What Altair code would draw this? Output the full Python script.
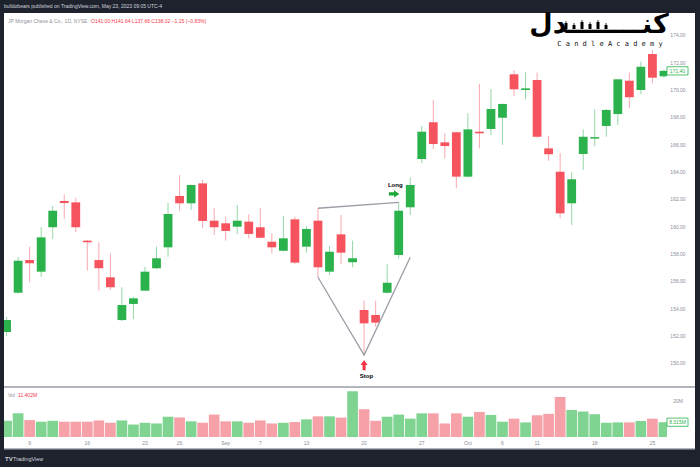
import altair as alt
import pandas as pd

# ---------------- data ----------------
idx = list(range(-2, 56))
opens = [152.3, 155.17, 157.56, 156.71, 159.96, 161.88, 161.78, 158.98, 157.56, 156.30,
         153.17, 154.35, 155.32, 156.96, 158.49, 162.25, 161.71, 163.17, 160.44, 160.25,
         160.00, 160.37, 159.96, 158.90, 158.24, 160.54, 158.54, 160.44, 156.71, 159.44,
         157.40, 153.91, 153.54, 155.17, 157.93, 161.42, 164.95, 167.64, 166.17, 166.91,
         163.66, 166.95, 167.15, 167.97, 171.15, 170.00, 170.73, 165.73, 164.02, 161.71,
         165.32, 166.44, 167.37, 168.24, 170.68, 170.00, 172.63, 171.00]
highs = [153.4, 157.78, 158.54, 159.96, 161.51, 162.37, 162.12, 159.03, 158.86, 158.05,
         155.57, 154.88, 157.07, 158.54, 161.76, 163.78, 163.10, 163.42, 161.35, 160.73,
         161.59, 160.91, 161.35, 159.52, 160.80, 160.73, 160.05, 161.35, 158.59, 160.86,
         158.98, 154.59, 154.59, 157.25, 161.78, 163.61, 167.37, 169.27, 166.83, 166.95,
         168.30, 170.44, 170.07, 169.00, 171.46, 171.29, 171.27, 166.64, 165.37, 163.98,
         167.12, 168.59, 168.60, 170.80, 171.27, 172.07, 172.93, 171.50]
lows = [152.0, 155.10, 155.93, 156.34, 159.10, 160.56, 159.59, 156.78, 155.32, 155.37,
        153.10, 153.23, 155.30, 156.90, 157.81, 161.17, 161.22, 159.88, 159.39, 158.98,
        159.47, 159.15, 159.15, 158.05, 158.20, 157.27, 158.10, 156.30, 156.47, 157.25,
        157.03, 150.61, 152.69, 155.10, 157.69, 160.86, 164.64, 165.68, 165.00, 162.81,
        163.60, 165.73, 166.71, 165.98, 169.56, 169.32, 166.51, 164.81, 160.61, 160.12,
        164.15, 165.90, 166.58, 167.44, 168.66, 169.69, 170.49, 170.90]
closes = [153.17, 157.51, 157.32, 159.22, 161.17, 161.73, 159.96, 158.86, 156.96, 155.57,
          154.27, 154.76, 156.71, 157.69, 160.93, 161.71, 163.05, 160.42, 159.96, 159.69,
          160.44, 159.47, 159.20, 158.49, 159.15, 157.37, 159.83, 157.03, 158.17, 158.10,
          157.69, 152.93, 152.98, 155.90, 161.17, 163.05, 166.95, 166.05, 165.90, 163.66,
          167.12, 166.83, 168.61, 168.98, 170.05, 170.12, 166.58, 165.30, 160.98, 163.47,
          166.58, 166.55, 168.54, 170.78, 169.47, 171.70, 170.90, 171.40]
volumes = [9.1, 13.3, 9.5, 8.6, 9.1, 8.6, 8.6, 8.6, 9.3, 8.0,
           9.3, 7.0, 8.0, 7.6, 11.4, 11.0, 8.8, 8.0, 12.6, 8.8,
           8.8, 8.0, 9.3, 7.6, 8.0, 8.4, 9.9, 11.6, 11.6, 10.9,
           25.7, 15.6, 9.1, 11.4, 12.6, 10.3, 13.3, 13.3, 7.6, 13.3,
           11.4, 14.1, 12.4, 8.6, 10.3, 8.2, 12.2, 13.0, 22.5, 15.2,
           14.3, 12.8, 8.0, 8.2, 8.2, 9.0, 10.3, 8.315]

date_tick_idx = [0, 5, 10, 13, 17, 20, 24, 29, 34, 38, 41, 44, 49, 54]
date_tick_lbl = ["9", "16", "23", "26", "Sep", "7", "13", "20", "27", "Oct", "6", "11", "18", "25"]
price_ticks = [150, 152, 154, 156, 158, 160, 162, 164, 166, 168, 170, 172, 174]
vol_ticks = [20]
vol_tick_lbl = ["20M"]

pattern_seg = ["top", "top", "v", "v", "v"]
pattern_idx = [25, 32, 25, 29, 33]
pattern_price = [161.35, 161.78, 156.30, 150.61, 157.76]
pattern_order = [0, 1, 0, 1, 2]

long_arrow = (31.6, 162.4)
long_text = (31.7, 163.05)
stop_arrow = (29.0, 149.88)
stop_text = (29.2, 149.08)

# ---------------- styles ----------------
W, H = 700, 467
DARK = "#1e222d"
UP, DOWN = "#2bb24c", "#f5545f"
VUP, VDOWN = "#80d492", "#f6a0a8"
AX = "#8a8d96"
FONT = "Liberation Sans"

X = alt.Scale(domain=[-25 / 11.7, 675 / 11.7], range=[0, W], nice=False, zero=False)
PY = alt.Scale(domain=[170 - (H - 90) / 13.67, 170 + 90 / 13.67], range=[H, 0], nice=False, zero=False)
VY = alt.Scale(domain=[(437 - H) / 1.78, 437 / 1.78], range=[H, 0], nice=False, zero=False)

df = pd.DataFrame({"i": idx, "open": opens, "high": highs, "low": lows, "close": closes, "vol": volumes})
one = pd.DataFrame({"a": [0]})


def deco_rect(x, x2, y, y2, color):
    return alt.Chart(one).mark_rect(color=color).encode(
        x=alt.value(x), x2=alt.value(x2), y=alt.value(y), y2=alt.value(y2))


def label(x, y, txt, color, size=5, align="left", weight="normal", font=FONT, baseline="middle"):
    return alt.Chart(one).mark_text(align=align, baseline=baseline, fontSize=size, color=color,
                                    fontWeight=weight, font=font).encode(
        x=alt.value(x), y=alt.value(y), text=alt.value(txt))


base = alt.Chart(df).transform_calculate(
    c="datum.close >= datum.open ? '%s' : '%s'" % (UP, DOWN),
    vc="datum.close >= datum.open ? '%s' : '%s'" % (VUP, VDOWN),
)
xe = alt.X("i:Q", scale=X, axis=None)

white = deco_rect(4, 695, 13, 449, "white")

vol_bars = base.mark_bar(size=10.7).encode(
    x=xe, y=alt.Y("vol:Q", scale=VY, axis=None), y2=alt.datum(0),
    color=alt.Color("vc:N", scale=None))

wicks = base.mark_rule(strokeWidth=1, opacity=0.5).encode(
    x=xe, y=alt.Y("low:Q", scale=PY, axis=None), y2="high:Q",
    color=alt.Color("c:N", scale=None))

bodies = base.mark_bar(size=8.8).encode(
    x=xe, y=alt.Y("open:Q", scale=PY, axis=None), y2="close:Q",
    color=alt.Color("c:N", scale=None))

pat = pd.DataFrame({"seg": pattern_seg, "i": pattern_idx, "p": pattern_price, "o": pattern_order})
pattern = alt.Chart(pat).mark_line(color="#9b9ea6", strokeWidth=1.3).encode(
    x=xe, y=alt.Y("p:Q", scale=PY, axis=None), detail="seg:N", order="o:Q")

mask_left = deco_rect(0, 4, 0, H, DARK)
mask_right = deco_rect(667, 695, 13, 449, "white")
sep = deco_rect(4, 695, 386, 388, "#b2b5be")
bottom_line = deco_rect(4, 695, 448, 449.5, "#b2b5be")

pt = pd.DataFrame({"p": price_ticks, "lbl": ["%.2f" % v for v in price_ticks]})
price_lbls = alt.Chart(pt).mark_text(align="center", baseline="middle", fontSize=5, color=AX, font=FONT).encode(
    x=alt.value(678), y=alt.Y("p:Q", scale=PY, axis=None), text="lbl:N")

dt = pd.DataFrame({"i": date_tick_idx, "lbl": date_tick_lbl})
date_lbls = alt.Chart(dt).mark_text(align="center", baseline="middle", fontSize=5, color=AX, font=FONT).encode(
    x=xe, y=alt.value(443), text="lbl:N")

vt = pd.DataFrame({"v": vol_ticks, "lbl": vol_tick_lbl})
vol_lbls = alt.Chart(vt).mark_text(align="center", baseline="middle", fontSize=5, color=AX, font=FONT).encode(
    x=alt.value(678), y=alt.Y("v:Q", scale=VY, axis=None), text="lbl:N")

last = pd.DataFrame({"p": [closes[-1]], "lbl": ["%.2f" % closes[-1]]})
last_box = alt.Chart(last).transform_calculate(t="datum.p + 0.3", b="datum.p - 0.3").mark_rect(
    fill="white", stroke=UP, strokeWidth=0.8).encode(
    x=alt.value(667), x2=alt.value(688), y=alt.Y("t:Q", scale=PY, axis=None), y2="b:Q")
last_txt = alt.Chart(last).mark_text(align="center", baseline="middle", fontSize=5, color=UP, font=FONT).encode(
    x=alt.value(677.5), y=alt.Y("p:Q", scale=PY, axis=None), text="lbl:N")

lastv = pd.DataFrame({"v": [volumes[-1]], "lbl": ["%.3fM" % volumes[-1]]})
lastv_box = alt.Chart(lastv).transform_calculate(t="datum.v + 2.3", b="datum.v - 2.3").mark_rect(
    fill="white", stroke=UP, strokeWidth=0.8).encode(
    x=alt.value(667), x2=alt.value(688), y=alt.Y("t:Q", scale=VY, axis=None), y2="b:Q")
lastv_txt = alt.Chart(lastv).mark_text(align="center", baseline="middle", fontSize=5, color=UP, font=FONT).encode(
    x=alt.value(677.5), y=alt.Y("v:Q", scale=VY, axis=None), text="lbl:N")

RARROW = "M-1,-0.3L0,-0.3L0,-0.7L1,0L0,0.7L0,0.3L-1,0.3Z"
UARROW = "M-0.3,1L-0.3,0L-0.7,0L0,-1L0.7,0L0.3,0L0.3,1Z"
ann = pd.DataFrame({"i": [long_arrow[0]], "p": [long_arrow[1]]})
long_arr = alt.Chart(ann).mark_point(shape=RARROW, filled=True, size=110, color="#1ea83a", opacity=1).encode(
    x=xe, y=alt.Y("p:Q", scale=PY, axis=None))
ann2 = pd.DataFrame({"i": [stop_arrow[0]], "p": [stop_arrow[1]]})
stop_arr = alt.Chart(ann2).mark_point(shape=UARROW, filled=True, size=105, color="#f23645", opacity=1).encode(
    x=xe, y=alt.Y("p:Q", scale=PY, axis=None))
lt = pd.DataFrame({"i": [long_text[0], stop_text[0]], "p": [long_text[1], stop_text[1]], "t": ["Long", "Stop"]})
ann_txt = alt.Chart(lt).mark_text(align="center", baseline="middle", fontSize=6, fontWeight="bold",
                                  color="#000000", font=FONT).encode(
    x=xe, y=alt.Y("p:Q", scale=PY, axis=None), text="t:N")

top_txt = label(4, 6, "bulldobears published on TradingView.com, May 23, 2023 09:05 UTC-4", "#d1d4dc", size=5)
hdr1 = label(8, 20.5, "JP Morgan Chase & Co., 1D, NYSE", "#8f929b", size=5)
hdr2 = label(91, 20.5, "O141.00  H141.64  L137.66  C138.02  \u22121.15 (\u22120.83%)", "#f23645", size=5)
vol_hdr1 = label(8, 395, "Vol", "#8f929b", size=5)
vol_hdr2 = label(18, 395, "11.402M", "#f23645", size=5)
tv_logo = label(5, 459, "TV", "#d1d4dc", size=6, weight="bold")
tv_txt = label(13, 459, "TradingView", "#d1d4dc", size=5.5)

# watermark logo: Persian word with small candles in the stretched stroke
logo_fa = label(599, 33, "\u06a9\u0646\u0640\u0640\u0640\u0640\u0640\u0640\u0640\u0640\u062f\u0644", "#000000",
                size=27, align="center", weight="bold", font="DejaVu Sans", baseline="alphabetic")
logo_en = label(610, 43.5, "C a n d l e   A c a d e m y", "#111111", size=7, align="center",
                font="DejaVu Sans Mono")
logo_candles = []
for cx, top, bot in [(566, 21, 29), (574, 23, 29), (582, 20, 29), (590, 22, 29), (598, 20, 29), (606, 23, 29)]:
    logo_candles.append(deco_rect(cx - 1.5, cx + 1.5, top + 2, bot, "#000000"))
    logo_candles.append(deco_rect(cx - 0.4, cx + 0.4, top, bot, "#000000"))

chart = alt.layer(
    white, vol_bars, wicks, bodies, pattern, mask_left, mask_right, sep, bottom_line,
    price_lbls, date_lbls, vol_lbls, last_box, last_txt, lastv_box, lastv_txt,
    long_arr, stop_arr, ann_txt, top_txt, hdr1, hdr2, vol_hdr1, vol_hdr2, tv_logo, tv_txt,
    logo_fa, logo_en, *logo_candles,
).resolve_scale(y="independent").properties(
    width=W, height=H, background=DARK, padding=0,
    autosize=alt.AutoSizeParams(type="none"),
).configure_view(stroke=None)

chart.save("out.html", embed_options={"renderer": "svg", "actions": False})
